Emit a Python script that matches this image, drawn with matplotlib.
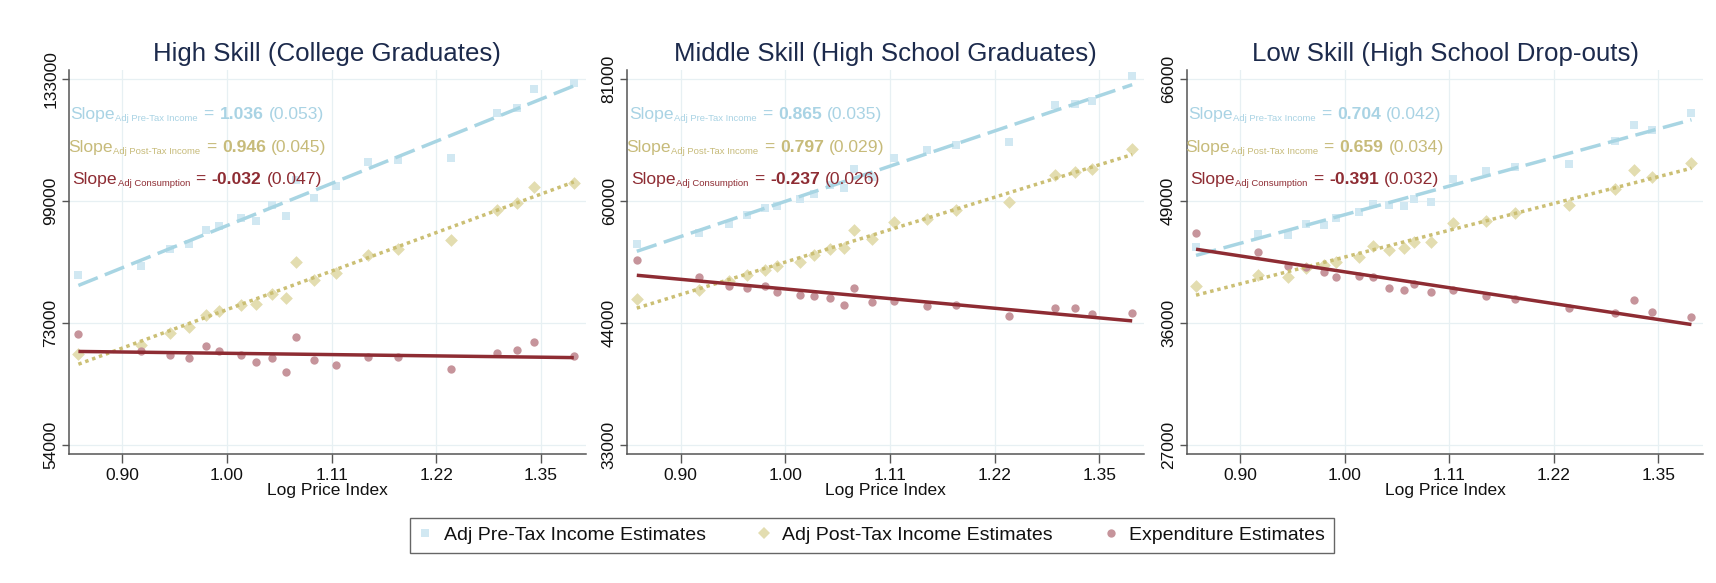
import matplotlib
matplotlib.use("Agg")
import matplotlib.pyplot as plt
import numpy as np
from matplotlib.lines import Line2D
from matplotlib.transforms import ScaledTranslation

plt.rcParams["font.family"] = ["Liberation Sans", "DejaVu Sans"]

# log price index of each metro area (same 20 areas in every panel)
log_price = [-0.142, -0.0825, -0.054, -0.0365, -0.0197, -0.008, 0.0137, 0.0276,
             0.0429, 0.0565, 0.066, 0.0828, 0.104, 0.135, 0.163, 0.214, 0.258,
             0.277, 0.2935, 0.3315]

titles = ["High Skill (College Graduates)",
          "Middle Skill (High School Graduates)",
          "Low Skill (High School Drop-outs)"]

# log of adjusted pre-tax income, post-tax income and expenditure
pre_tax = [
    [11.318, 11.340, 11.382, 11.394, 11.429, 11.439, 11.458, 11.451, 11.490, 11.463,
     11.552, 11.507, 11.537, 11.596, 11.601, 11.606, 11.716, 11.729, 11.775, 11.790],
    [10.895, 10.922, 10.943, 10.965, 10.982, 10.988, 11.006, 11.016, 11.040, 11.033,
     11.079, 11.060, 11.106, 11.125, 11.138, 11.145, 11.237, 11.238, 11.246, 11.307],
    [10.688, 10.718, 10.716, 10.743, 10.740, 10.757, 10.773, 10.793, 10.789, 10.787,
     10.804, 10.798, 10.853, 10.873, 10.884, 10.892, 10.948, 10.987, 10.975, 11.017],
]
post_tax = [
    [11.124, 11.145, 11.175, 11.191, 11.219, 11.230, 11.244, 11.246, 11.271, 11.261,
     11.349, 11.306, 11.324, 11.367, 11.381, 11.404, 11.478, 11.496, 11.535, 11.544],
    [10.758, 10.780, 10.802, 10.819, 10.831, 10.839, 10.850, 10.868, 10.883, 10.884,
     10.928, 10.906, 10.949, 10.956, 10.978, 10.997, 11.063, 11.071, 11.078, 11.128],
    [10.591, 10.618, 10.614, 10.634, 10.643, 10.649, 10.663, 10.689, 10.680, 10.684,
     10.700, 10.698, 10.745, 10.751, 10.770, 10.789, 10.829, 10.875, 10.860, 10.893],
]
expenditure = [
    [11.172, 11.131, 11.121, 11.114, 11.143, 11.132, 11.121, 11.103, 11.115, 11.080,
     11.165, 11.110, 11.096, 11.116, 11.116, 11.087, 11.127, 11.134, 11.154, 11.118],
    [10.856, 10.812, 10.792, 10.786, 10.790, 10.775, 10.770, 10.766, 10.762, 10.745,
     10.787, 10.751, 10.755, 10.741, 10.743, 10.716, 10.736, 10.736, 10.722, 10.724],
    [10.721, 10.675, 10.640, 10.638, 10.626, 10.612, 10.616, 10.614, 10.585, 10.580,
     10.596, 10.576, 10.580, 10.567, 10.558, 10.537, 10.525, 10.556, 10.526, 10.515],
]

# regression slopes and standard errors: pre-tax, post-tax, consumption
slopes = [[1.036, 0.946, -0.032], [0.865, 0.797, -0.237], [0.704, 0.659, -0.391]]
std_errs = [["0.053", "0.045", "0.047"], ["0.035", "0.029", "0.026"],
            ["0.042", "0.034", "0.032"]]

x_ticks = [-0.1, 0.0, 0.1, 0.2, 0.3]
x_labels = ["0.90", "1.00", "1.11", "1.22", "1.35"]
y_ticks = [[10.9, 11.2, 11.5, 11.8], [10.4, 10.7, 11.0, 11.3], [10.2, 10.5, 10.8, 11.1]]
y_labels = [["54000", "73000", "99000", "133000"],
            ["33000", "44000", "60000", "81000"],
            ["27000", "36000", "49000", "66000"]]

subs = ["Adj Pre-Tax Income", "Adj Post-Tax Income", "Adj Consumption"]
legend_labels = ["Adj Pre-Tax Income Estimates", "Adj Post-Tax Income Estimates",
                 "Expenditure Estimates"]

marker_colors = ["#d1e8f2", "#e3ddb0", "#c6949b"]
line_colors = ["#a8d5e3", "#cbbf74", "#8e2c33"]
text_colors = ["#a9d3e4", "#c7bb7a", "#8e2c33"]
markers = ["s", "D", "o"]
marker_sizes = [38, 42, 36]
line_styles = [(0, (6, 2.2)), (0, (1, 1.1)), "-"]

fig = plt.figure(figsize=(17.16, 5.83), dpi=100)
renderer = fig.canvas.get_renderer()

lefts = [0.0402, 0.3656, 0.6915]
width = 0.3012


def slope_label(ax, xa, ya, color, sub, slope, se):
    # "Slope_sub = slope (se)" built piece by piece, centred on xa
    pieces = [("Slope", 12.6, "normal", 0, 0.5), (sub, 6.8, "normal", -2.5, 5.5),
              ("=", 12.6, "normal", 0, 6), (f"{slope:.3f}", 12.6, "bold", 0, 5),
              (f"({se})", 12.6, "normal", 0, 0)]
    items = []
    for s, size, weight, dy, gap in pieces:
        t = ax.text(xa, ya, s, transform=ax.transAxes, fontsize=size,
                    fontweight=weight, color=color, ha="left", va="baseline",
                    zorder=6)
        w = t.get_window_extent(renderer).width
        items.append((t, dy, w, gap))
    total = sum(w + g for _, _, w, g in items)
    x = -total / 2
    for t, dy, w, gap in items:
        t.set_transform(ax.transAxes + ScaledTranslation(x / 100, dy / 100,
                                                         fig.dpi_scale_trans))
        x += w + gap


for i in range(3):
    ax = fig.add_axes([lefts[i], 0.2213, width, 0.6587])
    x = np.array(log_price)
    series = [pre_tax[i], post_tax[i], expenditure[i]]
    for k in range(3):
        ax.scatter(x, series[k], marker=markers[k], s=marker_sizes[k],
                   color=marker_colors[k], linewidths=0, zorder=2)
    for k in range(3):
        y = np.array(series[k])
        xs = np.array([x.min(), x.max()])
        ys = y.mean() + slopes[i][k] * (xs - x.mean())
        ax.plot(xs, ys, color=line_colors[k], lw=2.5, linestyle=line_styles[k],
                zorder=3, solid_capstyle="butt", dash_capstyle="butt")

    ax.set_xlim(-0.151, 0.343)
    ax.set_ylim(y_ticks[i][0] - 0.022, y_ticks[i][-1] + 0.022)
    ax.set_xticks(x_ticks)
    ax.set_xticklabels(x_labels)
    ax.set_yticks(y_ticks[i])
    ax.set_yticklabels(y_labels[i], rotation=90, va="center")
    ax.tick_params(axis="x", length=6.5, width=1, color="#555555", labelsize=12.5,
                   pad=3.5, labelcolor="#111111")
    ax.tick_params(axis="y", length=4.7, width=1, color="#555555", labelsize=12.5,
                   pad=3, labelcolor="#111111")
    ax.grid(True, color="#e7f0f3", lw=0.9)
    ax.set_axisbelow(True)
    for side in ["top", "right"]:
        ax.spines[side].set_visible(False)
    for side in ["left", "bottom"]:
        ax.spines[side].set_color("#555555")
        ax.spines[side].set_linewidth(1.1)

    ax.set_xlabel("Log Price Index", fontsize=12.5, labelpad=0, color="#111111")
    ax.set_title(titles[i], fontsize=18.6, color="#1c2a4c", pad=6.5)

    for k, ya in enumerate([0.8724, 0.7865, 0.7031]):
        slope_label(ax, 0.248, ya, text_colors[k], subs[k], slopes[i][k],
                    std_errs[i][k])

handles = [Line2D([], [], marker=markers[k], ls="none", color=marker_colors[k],
                  markersize=[6, 6.5, 6][k], markeredgewidth=0)
           for k in range(3)]
leg = fig.legend(handles, legend_labels, loc="center", ncol=3,
                 bbox_to_anchor=(0.508, 0.082), fontsize=14, frameon=True,
                 fancybox=False, borderpad=0.44, handlelength=0.7,
                 handletextpad=0.6, columnspacing=2.63)
leg.get_frame().set_edgecolor("#404040")
leg.get_frame().set_linewidth(1.0)
for t in leg.get_texts():
    t.set_color("#111111")

fig.savefig("out.png", dpi=100)
